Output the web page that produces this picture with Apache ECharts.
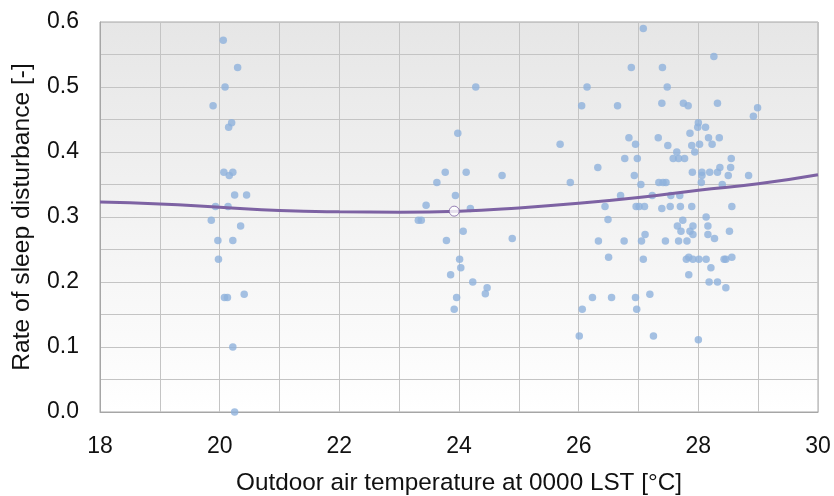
<!DOCTYPE html>
<html><head><meta charset="utf-8">
<script src="https://cdn.jsdelivr.net/npm/echarts@6/dist/echarts.min.js"></script>
<style>html,body{margin:0;padding:0;background:#fff}#c{width:834px;height:496px}</style>
</head><body><div id="c"></div>
<script>
const xTicks = [18, 20, 22, 24, 26, 28, 30];
const yTicks = [0.0, 0.1, 0.2, 0.3, 0.4, 0.5, 0.6];
const temps = [
20.06,20.30,20.09,19.89,20.20,20.15,20.07,20.16,20.22,20.25,20.45,19.93,20.14,19.86,20.35,19.97,20.22,19.98,20.08,20.13,20.41,20.22,20.25,
24.28,23.98,23.77,24.12,24.72,23.63,23.94,23.45,24.19,23.32,23.37,24.07,24.89,23.79,24.01,24.03,23.86,24.23,24.47,24.44,23.96,23.92,
27.08,26.88,27.40,26.14,27.48,26.05,26.65,27.39,28.26,27.75,27.83,28.32,28.99,28.92,28.00,27.99,28.12,25.69,26.84,26.95,27.33,27.49,27.64,27.86,28.17,28.35,27.89,28.02,28.23,27.94,
26.77,26.98,27.58,27.67,27.77,28.55,26.32,28.36,28.54,26.93,27.90,28.06,28.06,28.19,28.32,28.50,28.84,25.86,27.04,27.34,27.41,27.46,28.05,28.40,26.70,27.23,27.54,27.69,
26.44,26.96,27.01,27.10,27.39,27.53,27.70,27.89,28.56,28.13,26.49,27.74,27.65,27.71,27.91,28.16,27.86,27.91,28.16,28.27,28.52,
26.33,26.76,27.05,27.11,27.45,27.67,27.81,26.50,27.08,27.80,27.84,27.91,28.01,28.13,28.43,28.46,28.56,28.21,27.84,28.18,28.32,28.46,
26.23,26.55,26.95,27.19,26.06,26.97,26.01,27.25,28.00
];
const rates = [
0.572,0.530,0.500,0.471,0.445,0.438,0.369,0.364,0.369,0.334,0.334,0.316,0.316,0.295,0.286,0.264,0.264,0.235,0.176,0.176,0.181,0.100,0.000,
0.500,0.429,0.369,0.369,0.364,0.353,0.333,0.318,0.313,0.295,0.295,0.278,0.267,0.264,0.235,0.222,0.211,0.200,0.191,0.182,0.176,0.158,
0.590,0.530,0.530,0.500,0.500,0.471,0.471,0.475,0.547,0.475,0.471,0.475,0.468,0.455,0.445,0.438,0.438,0.412,0.422,0.412,0.422,0.410,0.400,0.429,0.422,0.422,0.410,0.412,0.412,0.400,
0.390,0.390,0.390,0.390,0.390,0.390,0.376,0.376,0.376,0.364,0.369,0.369,0.364,0.369,0.369,0.364,0.364,0.353,0.350,0.353,0.353,0.353,0.353,0.350,0.333,0.333,0.333,0.333,
0.316,0.316,0.316,0.316,0.313,0.316,0.316,0.316,0.316,0.300,0.296,0.295,0.286,0.278,0.286,0.286,0.278,0.273,0.273,0.267,0.278,
0.263,0.263,0.263,0.273,0.263,0.263,0.263,0.238,0.235,0.235,0.238,0.235,0.235,0.235,0.235,0.235,0.238,0.222,0.211,0.200,0.200,0.191,
0.176,0.176,0.176,0.181,0.158,0.158,0.117,0.117,0.111
];
const curveX = [18, 19, 20, 21, 22, 23, 24, 25, 26, 27, 28, 29, 30];
const curveY = [0.323, 0.320, 0.315, 0.310, 0.308, 0.3075, 0.309, 0.314, 0.321, 0.330, 0.341, 0.351, 0.365];
const markX = [23.92];
const markY = [0.309];

const pts = temps.map((t, i) => [t, rates[i]]);
const curve = curveX.map((t, i) => [t, curveY[i]]);
const mark = markX.map((t, i) => [t, markY[i]]);

const chart = echarts.init(document.getElementById('c'), null, {renderer: 'canvas'});
const font = 'Liberation Sans, Arial, sans-serif';
chart.setOption({
  animation: false,
  grid: {
    left: 100, right: 16, top: 22, bottom: 84,
    containLabel: false, outerBoundsMode: 'none',
    show: true, borderColor: '#a6a6a6', borderWidth: 1,
    backgroundColor: new echarts.graphic.LinearGradient(0, 0, 0, 1, [
      {offset: 0, color: '#e6e6e6'}, {offset: 1, color: '#ffffff'}
    ])
  },
  xAxis: {
    type: 'value', min: 18, max: 30, interval: 2,
    name: 'Outdoor air temperature at 0000 LST [°C]',
    nameLocation: 'middle', nameGap: 59,
    nameTextStyle: {fontFamily: font, fontSize: 24.3, color: '#111'},
    axisLine: {show: true, lineStyle: {color: '#a6a6a6'}},
    axisTick: {show: false},
    axisLabel: {fontFamily: font, fontSize: 23, color: '#111', margin: 23,
      formatter: v => xTicks.includes(v) ? String(v) : ''},
    splitLine: {show: true, lineStyle: {color: '#c4c4c4', width: 1}},
    minorTick: {show: false, splitNumber: 2},
    minorSplitLine: {show: true, lineStyle: {color: '#c4c4c4', width: 1}}
  },
  yAxis: {
    type: 'value', min: 0, max: 0.6, interval: 0.1,
    name: 'Rate of sleep disturbance [-]',
    nameLocation: 'middle', nameGap: 65,
    nameTextStyle: {fontFamily: font, fontSize: 24.6, color: '#111'},
    axisLine: {show: true, lineStyle: {color: '#a6a6a6'}},
    axisTick: {show: false},
    axisLabel: {fontFamily: font, fontSize: 23, color: '#111', margin: 21,
      formatter: v => {
        const t = yTicks.find(y => Math.abs(y - v) < 1e-6);
        return t === undefined ? '' : t.toFixed(1);
      }},
    splitLine: {show: true, lineStyle: {color: '#c4c4c4', width: 1}},
    minorTick: {show: false, splitNumber: 2},
    minorSplitLine: {show: true, lineStyle: {color: '#c4c4c4', width: 1}}
  },
  series: [
    {
      type: 'scatter', data: pts, symbol: 'circle', symbolSize: 7.5,
      itemStyle: {color: '#8fb1dc'}, z: 2
    },
    {
      type: 'line', data: curve, smooth: true, showSymbol: false,
      lineStyle: {color: '#7d62a3', width: 3}, z: 3
    },
    {
      type: 'scatter', data: mark, symbol: 'circle', symbolSize: 10,
      itemStyle: {color: '#ffffff', borderColor: '#7d62a3', borderWidth: 1}, z: 4
    }
  ]
});
</script>
</body></html>
